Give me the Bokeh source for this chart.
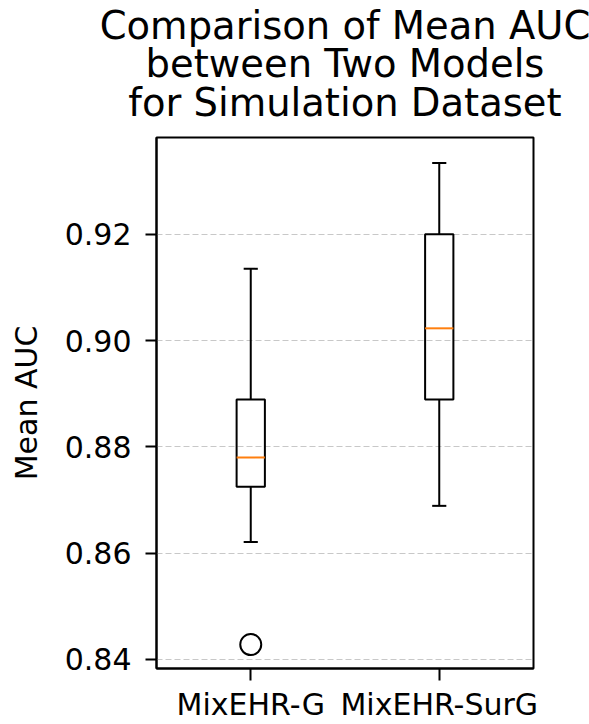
from bokeh.plotting import figure
from bokeh.models import Range1d, FixedTicker, Title
from bokeh.embed import file_html
from bokeh.resources import INLINE

# ---- data ----
models = ["MixEHR-G", "MixEHR-SurG"]
positions = [1, 2]
q1 = [0.8725, 0.8889]
medians = [0.8780, 0.9023]
q3 = [0.8889, 0.9200]
whisker_low = [0.8621, 0.8689]
whisker_high = [0.9135, 0.9334]
outlier_pos = [1]
outlier_vals = [0.8428]
y_ticks = [0.84, 0.86, 0.88, 0.90, 0.92]
y_tick_labels = ["0.84", "0.86", "0.88", "0.90", "0.92"]

title_lines = ["Comparison of Mean AUC", "between Two Models", "for Simulation Dataset"]
y_label = "Mean AUC"

FONT = "DejaVu Sans"
box_w = 0.15
cap_w = 0.075
Y0, Y1 = 0.8383, 0.9382

p = figure(width=589, height=724, output_backend="svg", toolbar_location=None,
           x_range=Range1d(0.5, 2.5), y_range=Range1d(Y0, Y1),
           min_border_left=156, min_border_right=56, min_border_top=137,
           min_border_bottom=53)

t = Title(text="\n".join(title_lines), align="center", vertical_align="top",
          text_font=FONT, text_font_size="38.5px", text_font_style="normal",
          text_color="#000000", text_line_height=0.86, standoff=0)
try:
    t.text_align = "center"
except AttributeError:
    pass
try:
    t.padding = dict(left=0, right=0, top=0, bottom=11)
except Exception:
    t.standoff = 13
p.title = t

p.background_fill_color = "white"
p.border_fill_color = "white"
p.outline_line_color = "black"
p.outline_line_width = 2

# grid
p.xgrid.visible = False
p.ygrid.ticker = FixedTicker(ticks=y_ticks)
p.ygrid.grid_line_color = "#b0b0b0"
p.ygrid.grid_line_alpha = 0.7
p.ygrid.grid_line_width = 1.2
p.ygrid.grid_line_dash = "6 3"

# y axis
ya = p.yaxis[0]
ya.ticker = FixedTicker(ticks=y_ticks)
ya.major_label_overrides = {t_: l for t_, l in zip(y_ticks, y_tick_labels)}
ya.axis_label = y_label
ya.axis_label_text_font = FONT
ya.axis_label_text_font_size = "30px"
ya.axis_label_text_font_style = "normal"
ya.axis_label_text_color = "#000000"
ya.axis_label_standoff = 18
ya.major_label_text_font = FONT
ya.major_label_text_font_size = "30px"
ya.major_label_text_color = "#000000"
ya.major_label_standoff = 14
ya.major_tick_out = 11
ya.major_tick_in = 0
ya.minor_tick_out = 0
ya.minor_tick_in = 0
ya.major_tick_line_width = 2
ya.axis_line_width = 2
ya.axis_line_color = "black"

# x axis
xa = p.xaxis[0]
xa.ticker = FixedTicker(ticks=positions)
xa.major_label_overrides = {pos: name for pos, name in zip(positions, models)}
xa.major_label_text_font = FONT
xa.major_label_text_font_size = "30px"
xa.major_label_text_color = "#000000"
xa.major_label_standoff = 6
xa.major_tick_out = 12
xa.major_tick_in = 0
xa.minor_tick_out = 0
xa.minor_tick_in = 0
xa.major_tick_line_width = 2
xa.axis_line_width = 2
xa.axis_line_color = "black"

# boxes
p.vbar(x=positions, width=box_w, bottom=q1, top=q3, fill_color=None,
       line_color="black", line_width=2)
# whiskers
p.segment(x0=positions, y0=q3, x1=positions, y1=whisker_high,
          line_color="black", line_width=2)
p.segment(x0=positions, y0=q1, x1=positions, y1=whisker_low,
          line_color="black", line_width=2)
# caps
p.segment(x0=[x - cap_w / 2 for x in positions], y0=whisker_high,
          x1=[x + cap_w / 2 for x in positions], y1=whisker_high,
          line_color="black", line_width=2)
p.segment(x0=[x - cap_w / 2 for x in positions], y0=whisker_low,
          x1=[x + cap_w / 2 for x in positions], y1=whisker_low,
          line_color="black", line_width=2)
# medians
p.segment(x0=[x - box_w / 2 for x in positions], y0=medians,
          x1=[x + box_w / 2 for x in positions], y1=medians,
          line_color="#ff7f0e", line_width=2)
# outliers
p.scatter(x=outlier_pos, y=outlier_vals, marker="circle", size=21,
          fill_color=None, line_color="black", line_width=2)

open("out.html", "w").write(file_html(p, INLINE))
